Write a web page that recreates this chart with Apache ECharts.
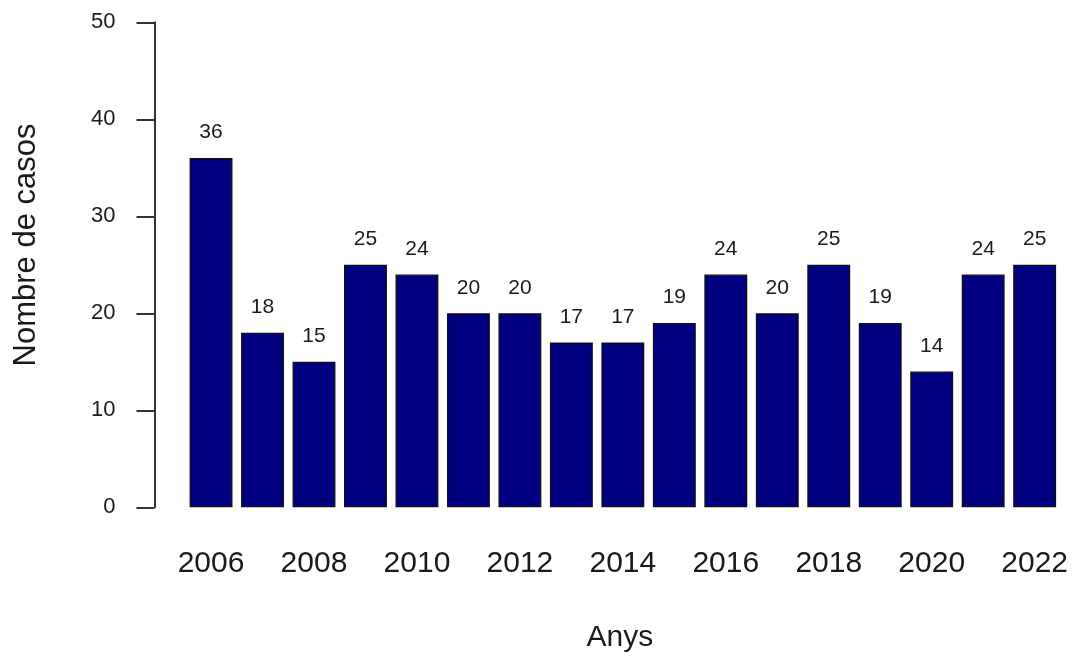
<!DOCTYPE html>
<html>
<head>
<meta charset="utf-8">
<script src="https://cdn.jsdelivr.net/npm/echarts@6/dist/echarts.min.js"></script>
<style>
html,body{margin:0;padding:0;background:#fff;}
#chart{width:1073px;height:658px;}
</style>
</head>
<body>
<div id="chart"></div>
<script>
const years = ['2006','2007','2008','2009','2010','2011','2012','2013','2014','2015','2016','2017','2018','2019','2020','2021','2022'];
const cases = [36,18,15,25,24,20,20,17,17,19,24,20,25,19,14,24,25];
const yTicks = [0,10,20,30,40,50];
const xTitle = 'Anys';
const yTitle = 'Nombre de casos';

const font = 'Liberation Sans, Arial, sans-serif';
const chart = echarts.init(document.getElementById('chart'), null, {renderer:'canvas'});
chart.setOption({
  backgroundColor:'#ffffff',
  animation:false,
  grid:{left:185.3, right:12.6, top:22.3, bottom:150.7, containLabel:false},
  xAxis:{
    type:'category',
    data:years,
    boundaryGap:true,
    axisLine:{show:false},
    axisTick:{show:false},
    axisLabel:{interval:1, margin:41, fontSize:30, color:'#1a1a1a', fontFamily:font},
    name:xTitle,
    nameLocation:'middle',
    nameGap:115,
    nameTextStyle:{fontSize:30, color:'#1a1a1a', fontFamily:font, padding:[0,6,0,0]}
  },
  yAxis:{
    type:'value',
    min:yTicks[0], max:yTicks[yTicks.length-1], interval:10,
    offset:30.8,
    splitLine:{show:false},
    axisLine:{show:true, lineStyle:{color:'#333', width:2}},
    axisTick:{show:true, inside:false, length:18, lineStyle:{color:'#333', width:2}},
    axisLabel:{margin:39, fontSize:22, color:'#1a1a1a', fontFamily:font}
  },
  graphic:[{
    type:'text',
    x:26, y:245,
    rotation:Math.PI/2,
    style:{text:yTitle, fontSize:31, fill:'#1a1a1a', fontFamily:font, align:'center', verticalAlign:'middle'}
  }],
  series:[{
    type:'bar',
    data:cases,
    barCategoryGap:'16.67%',
    itemStyle:{color:'#000080', borderColor:'#111', borderWidth:1.3},
    label:{show:true, position:'top', distance:15, fontSize:21, color:'#1a1a1a', fontFamily:font}
  }]
});
</script>
</body>
</html>
